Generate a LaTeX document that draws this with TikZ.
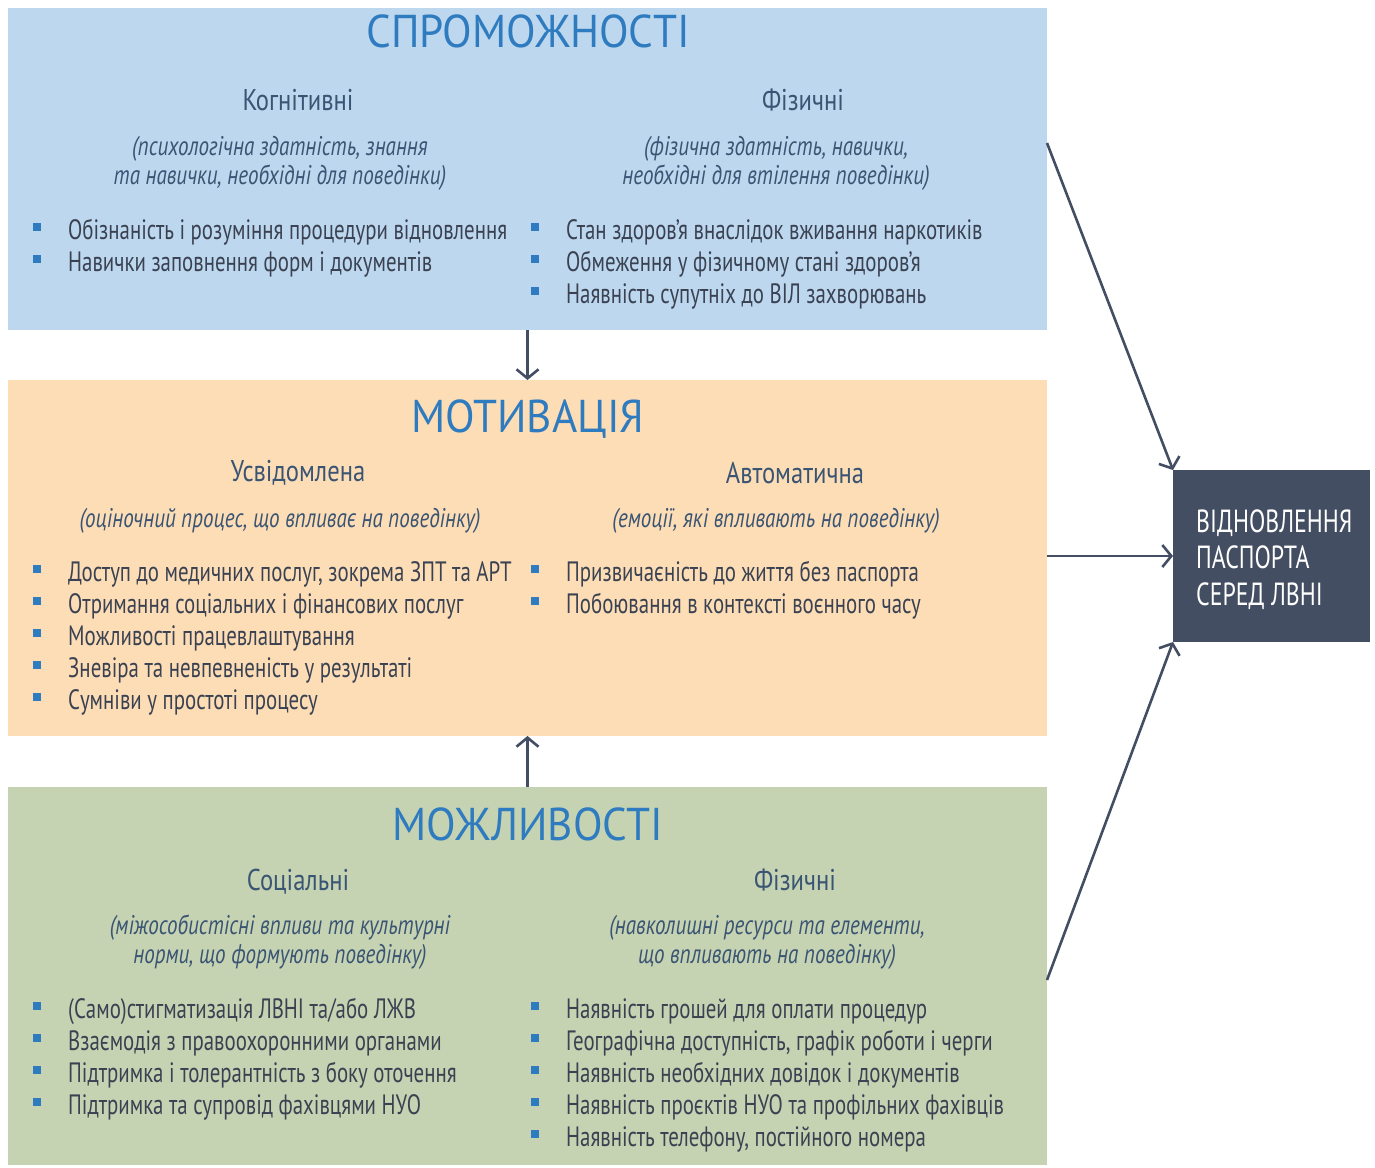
\documentclass[tikz,border=0pt]{standalone}
\usepackage{fontspec}
\setmainfont{PT Sans}[FakeStretch=0.745]
\newfontfamily\headfont{PT Sans}[FakeStretch=0.94]
\newfontfamily\subfont{PT Sans}[FakeStretch=0.82]
\newfontfamily\descfont{PT Sans}[FakeStretch=0.78]
\usetikzlibrary{arrows.meta,calc}
\definecolor{capblue}{HTML}{BDD7EE}
\definecolor{motor}{HTML}{FDDDB6}
\definecolor{oppgr}{HTML}{C5D3B2}
\definecolor{outbox}{HTML}{434E62}
\definecolor{headblue}{HTML}{2E7BBF}
\definecolor{subcol}{HTML}{3A5473}
\definecolor{bodycol}{HTML}{3A4252}
\definecolor{bulcol}{HTML}{2F7BBF}
\tikzset{
  box/.style={inner sep=0pt, outer sep=0pt, anchor=north west},
  headtxt/.style={anchor=base, inner sep=0pt, text=headblue, font=\headfont\fontsize{46}{50}\selectfont},
  subtxt/.style={anchor=base, inner sep=0pt, text=subcol, font=\subfont\fontsize{30}{34}\selectfont},
  desctxt/.style={anchor=base, inner sep=0pt, text=subcol, font=\descfont\fontsize{27}{31}\selectfont\itshape},
  bodytxt/.style={anchor=base west, inner sep=0pt, text=bodycol, font=\fontsize{28}{32}\selectfont},
  bul/.style={fill=bulcol, inner sep=0pt, minimum size=8pt},
  outtxt/.style={anchor=base west, inner sep=0pt, text=white, font=\fontsize{32}{36}\selectfont},
  conn/.style={draw=outbox, line width=2.6pt, -{Straight Barb[length=9pt,width=22pt]}}
}
\newcommand\bl[4]{\node[bul] (#1b) at (#2-31,#3-2) {}; \node[bodytxt] (#1) at (#2,#3+10) {#4};}
\begin{document}
\begin{tikzpicture}[x=1pt,y=-1pt]
\useasboundingbox (0,0) rectangle (1375,1167);
% boxes
\node[box, fill=capblue, minimum width=1039pt, minimum height=322pt] (cap) at (8,8) {};
\node[box, fill=motor, minimum width=1039pt, minimum height=356pt] (mot) at (8,380) {};
\node[box, fill=oppgr, minimum width=1039pt, minimum height=378pt] (opp) at (8,787) {};
\node[box, fill=outbox, minimum width=197pt, minimum height=172pt] (out) at (1173,470) {};
% capability
\node[headtxt] (caph) at (528,47) {СПРОМОЖНОСТІ};
\node[subtxt] (capl) at (298,110) {Когнітивні};
\node[subtxt] (capr) at (803,110) {Фізичні};
\node[desctxt] (capld1) at (280,155) {(психологічна здатність, знання};
\node[desctxt] (capld2) at (280,184) {та навички, необхідні для поведінки)};
\node[desctxt] (caprd1) at (776,155) {(фізична здатність, навички,};
\node[desctxt] (caprd2) at (776,184) {необхідні для втілення поведінки)};
\bl{c1}{68}{229}{Обізнаність і розуміння процедури відновлення}
\bl{c2}{68}{261}{Навички заповнення форм і документів}
\bl{c3}{566}{229}{Стан здоров’я внаслідок вживання наркотиків}
\bl{c4}{566}{261}{Обмеження у фізичному стані здоров’я}
\bl{c5}{566}{293}{Наявність супутніх до ВІЛ захворювань}
% motivation
\node[headtxt] (moth) at (528,432) {МОТИВАЦІЯ};
\node[subtxt] (motl) at (298,481) {Усвідомлена};
\node[subtxt] (motr) at (795,483) {Автоматична};
\node[desctxt] (motld) at (280,527) {(оціночний процес, що впливає на поведінку)};
\node[desctxt] (motrd) at (776,527) {(емоції, які впливають на поведінку)};
\bl{m1}{68}{571}{Доступ до медичних послуг, зокрема ЗПТ та АРТ}
\bl{m2}{68}{603}{Отримання соціальних і фінансових послуг}
\bl{m3}{68}{635}{Можливості працевлаштування}
\bl{m4}{68}{667}{Зневіра та невпевненість у результаті}
\bl{m5}{68}{699}{Сумніви у простоті процесу}
\bl{m6}{566}{571}{Призвичаєність до життя без паспорта}
\bl{m7}{566}{603}{Побоювання в контексті воєнного часу}
% opportunity
\node[headtxt] (opph) at (528,840) {МОЖЛИВОСТІ};
\node[subtxt] (oppl) at (298,890) {Соціальні};
\node[subtxt] (oppr) at (795,890) {Фізичні};
\node[desctxt] (oppld1) at (280,934) {(міжособистісні впливи та культурні};
\node[desctxt] (oppld2) at (280,963) {норми, що формують поведінку)};
\node[desctxt] (opprd1) at (767,934) {(навколишні ресурси та елементи,};
\node[desctxt] (opprd2) at (767,963) {що впливають на поведінку)};
\bl{o1}{68}{1008}{(Само)стигматизація ЛВНІ та/або ЛЖВ}
\bl{o2}{68}{1040}{Взаємодія з правоохоронними органами}
\bl{o3}{68}{1072}{Підтримка і толерантність з боку оточення}
\bl{o4}{68}{1104}{Підтримка та супровід фахівцями НУО}
\bl{o5}{566}{1008}{Наявність грошей для оплати процедур}
\bl{o6}{566}{1040}{Географічна доступність, графік роботи і черги}
\bl{o7}{566}{1072}{Наявність необхідних довідок і документів}
\bl{o8}{566}{1104}{Наявність проєктів НУО та профільних фахівців}
\bl{o9}{566}{1136}{Наявність телефону, постійного номера}
% outcome
\node[outtxt] (out1) at (1196,532) {ВІДНОВЛЕННЯ};
\node[outtxt] (out2) at (1196,568) {ПАСПОРТА};
\node[outtxt] (out3) at (1196,605) {СЕРЕД ЛВНІ};
% connectors
\draw[conn] (cap.south) -- (mot.north);
\draw[conn] (opp.north) -- (mot.south);
\draw[conn] ([yshift=-135pt]cap.north east) -- (out.north west);
\draw[conn] (mot.east |- out.west) -- (out.west);
\draw[conn] ([yshift=-193pt]opp.north east) -- (out.south west);
\end{tikzpicture}
\end{document}
